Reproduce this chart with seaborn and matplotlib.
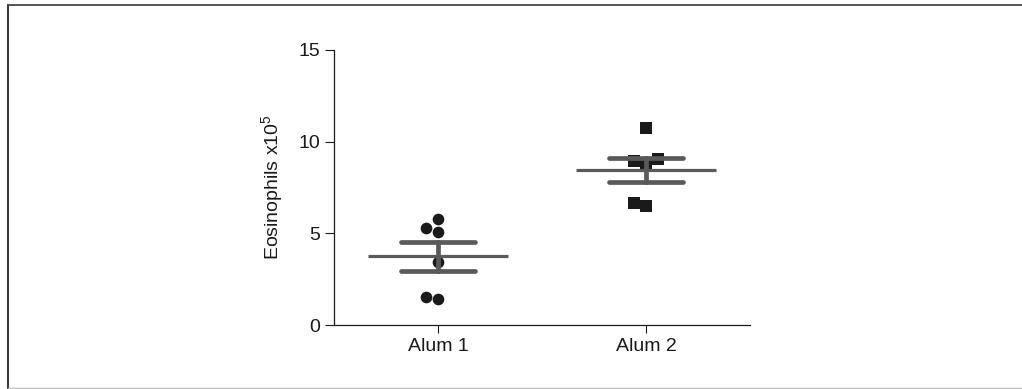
import pandas as pd
import seaborn as sns
import matplotlib.pyplot as plt
from matplotlib.lines import Line2D

# values
groups = ['Alum 1', 'Alum 2']
alum1 = [5.76, 5.10, 5.27, 3.45, 1.40, 1.54]
alum2 = [10.72, 8.94, 8.85, 9.05, 6.50, 6.63]
yticks = [0, 5, 10, 15]
ylabel = 'Eosinophils x10$^{\\mathregular{5}}$'

df = pd.DataFrame({
    'group': [groups[0]] * len(alum1) + [groups[1]] * len(alum2),
    'value': alum1 + alum2,
})

sns.set_theme(style='ticks')
plt.rcParams['font.family'] = ['Liberation Sans', 'DejaVu Sans']

fig = plt.figure(figsize=(10.22, 3.89), dpi=100)
ax = fig.add_axes([0.3268, 0.1645, 0.4071, 0.707])

sns.swarmplot(data=df[df['group'] == groups[0]], x='group', y='value', order=groups,
              marker='o', size=8.4, color='#1a1a1a', linewidth=0, ax=ax, zorder=2)
sns.swarmplot(data=df[df['group'] == groups[1]], x='group', y='value', order=groups,
              marker='s', size=8.4, color='#1a1a1a', linewidth=0, ax=ax, zorder=2)

# mean line with SEM bars
sns.pointplot(data=df, x='group', y='value', order=groups, errorbar='se', capsize=0.36,
              color='#5a5a5a', markers='_', markersize=101, markeredgewidth=2.3,
              linestyle='none', err_kws={'linewidth': 3.4}, ax=ax, zorder=3)

ax.set_xlim(-0.5, 1.5)
ax.set_ylim(0, 15)
ax.set_yticks(yticks)
ax.set_xlabel('')
ax.set_ylabel(ylabel, fontsize=14, labelpad=9, color='#1a1a1a')
ax.tick_params(axis='both', labelsize=14, width=0.8, colors='#1a1a1a')
ax.tick_params(axis='y', length=6.5)
ax.tick_params(axis='x', length=5.5)
for s in ['left', 'bottom']:
    ax.spines[s].set_linewidth(0.9)
    ax.spines[s].set_color('#1a1a1a')
sns.despine(ax=ax)

# thin frame around the figure
fig.add_artist(Line2D([0.0083, 1.0], [0.987, 0.987], transform=fig.transFigure, color='#3a3a3a', lw=1.2))
fig.add_artist(Line2D([0.0083, 0.0083], [0.003, 0.987], transform=fig.transFigure, color='#3a3a3a', lw=1.5))
fig.add_artist(Line2D([0.0083, 1.0], [0.003, 0.003], transform=fig.transFigure, color='#bbbbbb', lw=1.0))

fig.savefig('out.png', dpi=100)
